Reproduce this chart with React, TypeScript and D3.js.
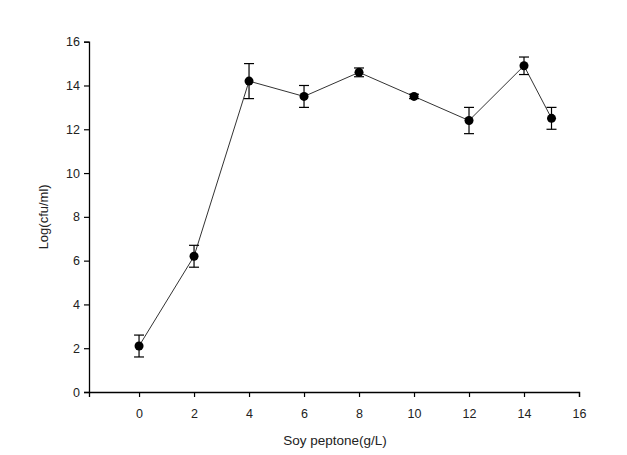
import React, { useEffect, useRef } from 'react';
import * as d3 from 'd3';

const peptone = [0, 2, 4, 6, 8, 10, 12, 14, 15];
const logCfu = [2.1, 6.2, 14.2, 13.5, 14.6, 13.5, 12.4, 14.9, 12.5];
const errors = [0.5, 0.5, 0.8, 0.5, 0.2, 0.1, 0.6, 0.4, 0.5];
const xTicks = [0, 2, 4, 6, 8, 10, 12, 14, 16];
const yTicks = [0, 2, 4, 6, 8, 10, 12, 14, 16];

const App = () => {
  const svgRef = useRef<SVGSVGElement>(null);
  const svgWidth = 627;
  const svgHeight = 455;
  const margin = { top: 41.7, right: 48, bottom: 63, left: 89 };
  const width = svgWidth - margin.left - margin.right;
  const height = svgHeight - margin.top - margin.bottom;

  useEffect(() => {
    const svg = d3.select(svgRef.current);
    svg.selectAll('*').remove();

    const x = d3.scaleLinear().domain([-1.82, 16]).range([0, width]);
    const y = d3.scaleLinear().domain([0, 16]).range([height, 0]);

    const g = svg.append('g')
      .attr('transform', `translate(${margin.left},${margin.top})`);

    const font = 'Liberation Sans, Arial, sans-serif';

    const yAxis = g.append('g')
      .call(d3.axisLeft(y).tickValues(yTicks).tickSize(5).tickPadding(4));
    const xAxis = g.append('g')
      .attr('transform', `translate(0,${height})`)
      .call(d3.axisBottom(x).tickValues(xTicks).tickSize(5).tickPadding(12));

    [xAxis, yAxis].forEach(a => {
      a.select('.domain').attr('stroke', '#000').attr('stroke-width', 1.3);
      a.selectAll('.tick line').attr('stroke', '#000').attr('stroke-width', 1.2);
      a.selectAll('.tick text')
        .attr('fill', '#222')
        .style('font-family', font)
        .style('font-size', '12.5px');
    });

    const line = d3.line<number>()
      .x((d, i) => x(peptone[i]))
      .y(d => y(d));

    g.append('path')
      .datum(logCfu)
      .attr('fill', 'none')
      .attr('stroke', '#333')
      .attr('stroke-width', 1)
      .attr('d', line);

    const pts = g.selectAll('.pt')
      .data(logCfu)
      .enter()
      .append('g');

    pts.append('line')
      .attr('x1', (d, i) => x(peptone[i]))
      .attr('x2', (d, i) => x(peptone[i]))
      .attr('y1', (d, i) => y(d + errors[i]))
      .attr('y2', (d, i) => y(d - errors[i]))
      .attr('stroke', '#000')
      .attr('stroke-width', 1.2);

    [1, -1].forEach(s => {
      pts.append('line')
        .attr('x1', (d, i) => x(peptone[i]) - 5)
        .attr('x2', (d, i) => x(peptone[i]) + 5)
        .attr('y1', (d, i) => y(d + s * errors[i]))
        .attr('y2', (d, i) => y(d + s * errors[i]))
        .attr('stroke', '#000')
        .attr('stroke-width', 1.2);
    });

    pts.append('circle')
      .attr('cx', (d, i) => x(peptone[i]))
      .attr('cy', d => y(d))
      .attr('r', 4.5)
      .attr('fill', '#000');

    svg.append('text')
      .attr('x', 335)
      .attr('y', 445)
      .attr('text-anchor', 'middle')
      .attr('fill', '#222')
      .style('font-family', font)
      .style('font-size', '13.5px')
      .text('Soy peptone(g/L)');

    svg.append('text')
      .attr('transform', `translate(48,${margin.top + y(8)}) rotate(-90)`)
      .attr('text-anchor', 'middle')
      .attr('fill', '#222')
      .style('font-family', font)
      .style('font-size', '13px')
      .text('Log(cfu/ml)');
  }, [width, height, margin.left, margin.top]);

  return (
    <svg
      ref={svgRef}
      width={svgWidth}
      height={svgHeight}
      style={{ position: 'absolute', left: 0, top: 0, background: '#fff' }}
    ></svg>
  );
};

export default App;
